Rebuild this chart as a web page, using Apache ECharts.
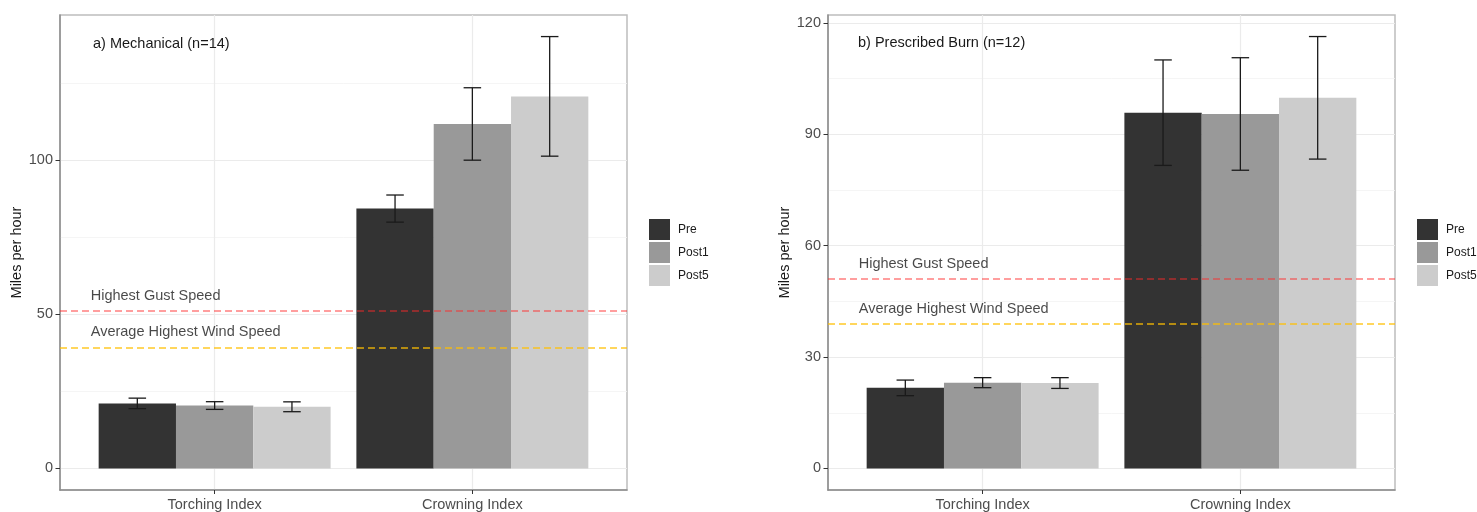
<!DOCTYPE html>
<html>
<head>
<meta charset="utf-8">
<script src="https://cdn.jsdelivr.net/npm/echarts@6/dist/echarts.min.js"></script>
<style>
html,body{margin:0;padding:0;background:#fff;}
#chart{width:1477px;height:512px;}
</style>
</head>
<body>
<div id="chart"></div>
<script>
// ---- data ----
const categories = ['Torching Index', 'Crowning Index'];
const groups = ['Pre', 'Post1', 'Post5'];
const groupColors = ['#333333', '#999999', '#cccccc'];

// a) Mechanical (n=14): means and error half-widths
const mechPre = [21.1, 84.3];
const mechPreErr = [1.7, 4.4];
const mechPost1 = [20.4, 111.75];
const mechPost1Err = [1.25, 11.75];
const mechPost5 = [20.0, 120.7];
const mechPost5Err = [1.6, 19.4];

// b) Prescribed Burn (n=12)
const burnPre = [21.7, 95.8];
const burnPreErr = [2.1, 14.2];
const burnPost1 = [23.1, 95.45];
const burnPost1Err = [1.35, 15.15];
const burnPost5 = [23.0, 99.8];
const burnPost5Err = [1.45, 16.5];

// reference lines
const gustSpeed = 51;
const avgWindSpeed = 39;

// tick labels
const mechTicks = [0, 50, 100];
const mechMinor = [25, 75, 125];
const burnTicks = [0, 30, 60, 90, 120];
const burnMinor = [15, 45, 75, 105];

const panelTitles = ['a) Mechanical (n=14)', 'b) Prescribed Burn (n=12)'];
const refLabels = ['Highest Gust Speed', 'Average Highest Wind Speed'];

// ---- chart ----
const FONT = 'Liberation Sans, Arial, sans-serif';
const FS = 14.5;
const chart = echarts.init(document.getElementById('chart'), null, {renderer: 'canvas'});

const panels = [
  {left: 60, ymin: -7.0, ymax: 147.1, ticks: mechTicks, minor: mechMinor,
   means: [mechPre, mechPost1, mechPost5], errs: [mechPreErr, mechPost1Err, mechPost5Err],
   labelY: [56, 44.1], titleLeft: 93, titleTop: 36, legendLeft: 649},
  {left: 828, ymin: -5.8, ymax: 122.1, ticks: burnTicks, minor: burnMinor,
   means: [burnPre, burnPost1, burnPost5], errs: [burnPreErr, burnPost1Err, burnPost5Err],
   labelY: [55.1, 43.0], titleLeft: 858, titleTop: 35, legendLeft: 1417}
];

const grids = [], xAxes = [], yAxes = [], series = [], titles = [], legends = [];

const BAR_W = 0.3, CAP = 0.034;

panels.forEach((p, pi) => {
  grids.push({left: p.left, top: 15, width: 567, height: 475, show: true,
    borderColor: '#bdbdbd', borderWidth: 1.5, backgroundColor: 'transparent'});
  xAxes.push({type: 'value', gridIndex: pi, min: 0.4, max: 2.6,
    axisLine: {show: true, onZero: false, lineStyle: {color: '#8c8c8c', width: 1.5}},
    axisTick: {show: true, length: 4, customValues: [1, 2], lineStyle: {color: '#333', width: 1}},
    axisLabel: {customValues: [1, 2], formatter: v => categories[Math.round(v) - 1],
      color: '#4d4d4d', fontSize: FS, fontFamily: FONT, margin: 7},
    splitLine: {show: false}});
  yAxes.push({type: 'value', gridIndex: pi, min: p.ymin, max: p.ymax,
    name: 'Miles per hour', nameLocation: 'middle', nameRotate: 90, nameGap: 30,
    nameTextStyle: {color: '#1a1a1a', fontSize: FS, fontFamily: FONT},
    axisLine: {show: true, onZero: false, lineStyle: {color: '#8c8c8c', width: 1.5}},
    axisTick: {show: true, length: 4.5, customValues: p.ticks, lineStyle: {color: '#333', width: 1}},
    axisLabel: {customValues: p.ticks, color: '#4d4d4d', fontSize: FS, fontFamily: FONT, margin: 7},
    splitLine: {show: false}});

  // grid lines (behind bars)
  const gl = [];
  p.ticks.forEach(v => gl.push({yAxis: v, lineStyle: {color: '#ebebeb', width: 1.2, type: 'solid'}}));
  p.minor.forEach(v => gl.push({yAxis: v, lineStyle: {color: '#f3f3f3', width: 0.8, type: 'solid'}}));
  [1, 2].forEach(v => gl.push({xAxis: v, lineStyle: {color: '#ebebeb', width: 1.2, type: 'solid'}}));
  series.push({type: 'line', xAxisIndex: pi, yAxisIndex: pi, data: [], z: 0, silent: true,
    markLine: {z: 0, silent: true, symbol: 'none', label: {show: false}, animation: false, data: gl}});

  // bars + error bars
  groups.forEach((g, gi) => {
    const data = categories.map((c, ci) => [ci + 1, p.means[gi][ci], p.errs[gi][ci]]);
    series.push({
      type: 'custom', name: g, xAxisIndex: pi, yAxisIndex: pi, z: 3,
      itemStyle: {color: groupColors[gi]},
      encode: {x: 0, y: 1},
      data: data,
      renderItem: (params, api) => {
        const cx = api.value(0) + (gi - 1) * BAR_W;
        const m = api.value(1), e = api.value(2);
        const tl = api.coord([cx - BAR_W / 2, m]);
        const br = api.coord([cx + BAR_W / 2, 0]);
        const top = api.coord([cx, m + e]);
        const bot = api.coord([cx, m - e]);
        const capL = api.coord([cx - CAP, 0])[0];
        const capR = api.coord([cx + CAP, 0])[0];
        const ls = {stroke: '#1a1a1a', lineWidth: 1.3};
        return {type: 'group', children: [
          {type: 'rect', shape: {x: tl[0], y: tl[1], width: br[0] - tl[0], height: br[1] - tl[1]},
           style: {fill: groupColors[gi]}},
          {type: 'line', shape: {x1: top[0], y1: top[1], x2: bot[0], y2: bot[1]}, style: ls},
          {type: 'line', shape: {x1: capL, y1: top[1], x2: capR, y2: top[1]}, style: ls},
          {type: 'line', shape: {x1: capL, y1: bot[1], x2: capR, y2: bot[1]}, style: ls}
        ]};
      }
    });
  });

  // reference lines (over bars)
  series.push({type: 'line', xAxisIndex: pi, yAxisIndex: pi, data: [], z: 6, silent: true,
    markLine: {z: 6, silent: true, symbol: 'none', label: {show: false}, animation: false, data: [
      {yAxis: gustSpeed, lineStyle: {color: 'rgba(255,40,40,0.6)', width: 1.5, type: [7, 4]}},
      {yAxis: avgWindSpeed, lineStyle: {color: 'rgba(255,190,0,0.85)', width: 1.5, type: [7, 4]}}
    ]}});

  // reference line annotations
  series.push({type: 'scatter', xAxisIndex: pi, yAxisIndex: pi, z: 7, silent: true,
    symbolSize: 0.1, itemStyle: {color: 'transparent'},
    data: refLabels.map((t, i) => ({value: [0.519, p.labelY[i]], name: t})),
    label: {show: true, position: 'right', distance: 0, formatter: d => d.name,
      color: '#1a1a1a', fontSize: FS, fontFamily: FONT}});

  titles.push({text: panelTitles[pi], left: p.titleLeft, top: p.titleTop, padding: 0,
    textStyle: {color: '#1a1a1a', fontSize: FS, fontWeight: 'normal', fontFamily: FONT}});

  legends.push({left: p.legendLeft, top: 219, orient: 'vertical', data: groups,
    icon: 'rect', itemWidth: 21, itemHeight: 21, itemGap: 2, padding: 0,
    selectedMode: false,
    textStyle: {color: '#1a1a1a', fontSize: 12, fontFamily: FONT, padding: [0, 0, 0, 3]}});
});

chart.setOption({
  animation: false,
  backgroundColor: '#ffffff',
  title: titles,
  legend: legends,
  grid: grids,
  xAxis: xAxes,
  yAxis: yAxes,
  series: series
});
</script>
</body>
</html>
